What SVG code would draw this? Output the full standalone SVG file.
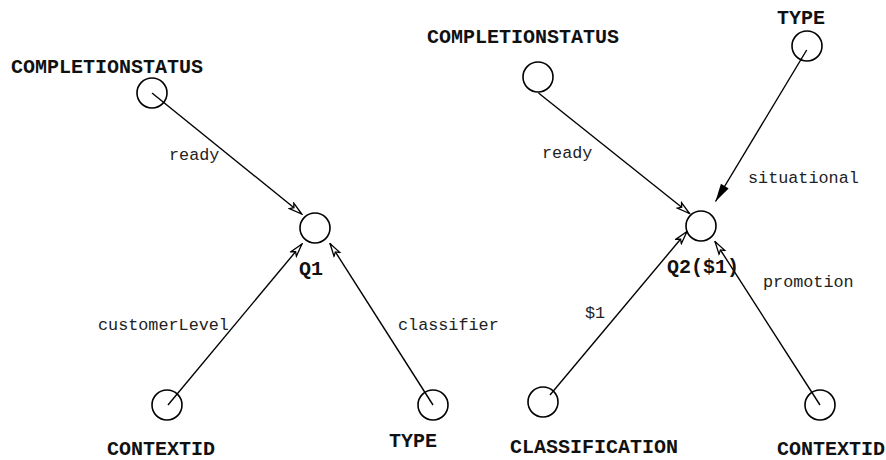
<svg xmlns="http://www.w3.org/2000/svg" width="886" height="460" viewBox="0 0 886 460">
<style>
.n{fill:none;stroke:#000;stroke-width:1.6}
.t{font-family:"Liberation Mono",monospace;font-weight:bold;font-size:20px;fill:#111}
.e{font-family:"Liberation Mono",monospace;font-size:16.8px;fill:#222}
.c line{stroke:#000;stroke-width:1.4}
.h{marker-end:url(#hollow)}
.f{marker-end:url(#filled)}
</style>
<defs>
<marker id="hollow" markerUnits="userSpaceOnUse" viewBox="-14 -5 15 10" refX="0" refY="0" markerWidth="15" markerHeight="10" orient="auto">
<path d="M0,0 L-13,-3.5 L-10,0 L-13,3.5 Z" fill="#fff" stroke="#000" stroke-width="1.3"/>
</marker>
<marker id="filled" markerUnits="userSpaceOnUse" viewBox="-19 -6 20 12" refX="0" refY="0" markerWidth="20" markerHeight="12" orient="auto">
<path d="M0,0 L-18,-4.5 L-18,4.5 Z" fill="#000"/>
</marker>
</defs>
<g class="c" id="connectors">
<line class="h" x1="152" y1="93" x2="301.7" y2="214"/>
<line class="h" x1="168" y1="405" x2="302" y2="244"/>
<line class="h" x1="433" y1="405" x2="330" y2="243.5"/>
<line class="h" x1="538.5" y1="93" x2="689.5" y2="213.5"/>
<line class="f" x1="806.7" y1="50" x2="715.5" y2="201.5"/>
<line class="h" x1="550" y1="395" x2="687" y2="231.5"/>
<line class="h" x1="820" y1="405" x2="715" y2="241.5"/>
<text class="e" x="169" y="160">ready</text>
<text class="e" x="98" y="330">customerLevel</text>
<text class="e" x="398" y="330">classifier</text>
<text class="e" x="542" y="158">ready</text>
<text class="e" x="748" y="183">situational</text>
<text class="e" x="585" y="318">$1</text>
<text class="e" x="763" y="287">promotion</text>
</g>
<g id="cs1"><circle class="n" cx="152" cy="93" r="15"/><text class="t" x="11" y="73">COMPLETIONSTATUS</text></g>
<g id="q1"><circle class="n" cx="315" cy="228" r="15"/><text class="t" x="299" y="275">Q1</text></g>
<g id="ctx1"><circle class="n" cx="167" cy="405" r="15"/><text class="t" x="107" y="455">CONTEXTID</text></g>
<g id="type1"><circle class="n" cx="433" cy="405" r="15"/><text class="t" x="389" y="447">TYPE</text></g>
<g id="cs2"><circle class="n" cx="538" cy="77" r="15"/><text class="t" x="427" y="43">COMPLETIONSTATUS</text></g>
<g id="type2"><circle class="n" cx="807" cy="46" r="15"/><text class="t" x="777" y="24">TYPE</text></g>
<g id="q2"><circle class="n" cx="701" cy="226" r="15"/><text class="t" x="667" y="273">Q2($1)</text></g>
<g id="class2"><circle class="n" cx="543" cy="402" r="15"/><text class="t" x="510" y="453">CLASSIFICATION</text></g>
<g id="ctx2"><circle class="n" cx="820" cy="405" r="15"/><text class="t" x="777" y="455">CONTEXTID</text></g>
</svg>
